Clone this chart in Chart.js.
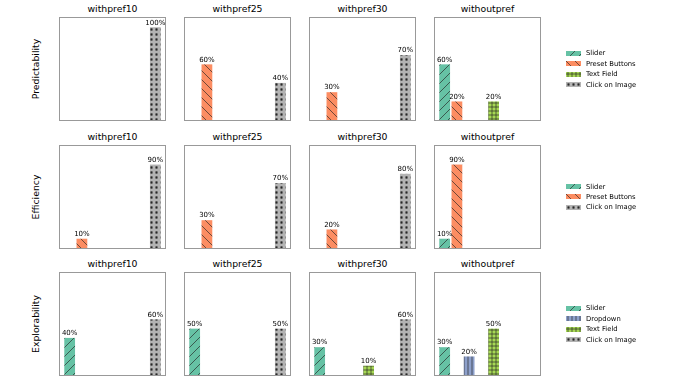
<!DOCTYPE html>
<html>
<head>
<meta charset="utf-8">
<script src="https://cdn.jsdelivr.net/npm/chart.js@4.4.1/dist/chart.umd.min.js"></script>
<style>
  body { margin: 0; background: #fff; font-family: "DejaVu Sans", sans-serif; }
  #fig { position: relative; width: 674px; height: 379px; overflow: hidden; }
  .panel { position: absolute; }
  .ttl { position: absolute; font-size: 9.3px; text-align: center; width: 160px; line-height: 12px; color: #000; }
  .rowlbl { position: absolute; font-size: 9.3px; white-space: nowrap; transform: translate(-50%, -50%) rotate(-90deg); }
  .leg { position: absolute; font-size: 6.8px; color: #000; }
  .leg div { display: flex; align-items: center; height: 10.4px; white-space: nowrap; }
  .leg canvas { margin-right: 5px; }
</style>
</head>
<body>
<div id="fig"></div>
<script>
// 8 interface slots; blank names never show a bar in this figure
const categories = ['Slider', 'Preset Buttons', 'Dropdown', '', 'Text Field', '', '', 'Click on Image'];
const conditions = ['withpref10', 'withpref25', 'withpref30', 'withoutpref'];
const metrics = ['Predictability', 'Efficiency', 'Explorability'];

// percentages per slot (same order as categories)
const predictability = [
    [0, 0, 0, 0, 0, 0, 0, 100],
    [0, 60, 0, 0, 0, 0, 0, 40],
    [0, 30, 0, 0, 0, 0, 0, 70],
    [60, 20, 0, 0, 20, 0, 0, 0]
];
const efficiency = [
    [0, 10, 0, 0, 0, 0, 0, 90],
    [0, 30, 0, 0, 0, 0, 0, 70],
    [0, 20, 0, 0, 0, 0, 0, 80],
    [10, 90, 0, 0, 0, 0, 0, 0]
];
const explorability = [
    [40, 0, 0, 0, 0, 0, 0, 60],
    [50, 0, 0, 0, 0, 0, 0, 50],
    [30, 0, 0, 0, 10, 0, 0, 60],
    [30, 0, 20, 0, 50, 0, 0, 0]
];
const rows = [predictability, efficiency, explorability];

const colors = ['#66c2a5', '#fc8d62', '#8da0cb', '#e78ac3', '#a6d854', '#ffd92f', '#e5c494', '#b3b3b3'];
const hatches = ['/', '\\', '|', '-', '+', 'x', 'o', '*'];

const panelLeft = [60, 185, 310, 435];
const panelTop = [18, 146, 273];
const panelW = 105, panelH = 102;

function makeHatch(color, hatch) {
    const big = (hatch === '/' || hatch === '\\' || hatch === 'x');
    const T = big ? 9 : (hatch === '*' ? 5 : 4);
    const tile = document.createElement('canvas');
    tile.width = T; tile.height = T;
    const c = tile.getContext('2d');
    c.fillStyle = color;
    c.fillRect(0, 0, T, T);
    c.strokeStyle = '#222';
    c.lineWidth = hatch === '*' ? 0.7 : 0.65;
    c.beginPath();
    if (hatch === '/' || hatch === 'x') {
        for (const k of [-T, 0, T]) { c.moveTo(k, T); c.lineTo(k + T, 0); }
    }
    if (hatch === '\\' || hatch === 'x') {
        for (const k of [-T, 0, T]) { c.moveTo(k, 0); c.lineTo(k + T, T); }
    }
    if (hatch === '|' || hatch === '+') { c.moveTo(T / 2, 0); c.lineTo(T / 2, T); }
    if (hatch === '-' || hatch === '+') { c.moveTo(0, T / 2); c.lineTo(T, T / 2); }
    if (hatch === '*') {
        const m = T / 2, r = 1.4;
        c.moveTo(m, m - r); c.lineTo(m, m + r);
        c.moveTo(m - r, m - 0.7); c.lineTo(m + r, m + 0.7);
        c.moveTo(m - r, m + 0.7); c.lineTo(m + r, m - 0.7);
    }
    c.stroke();
    return c.createPattern(tile, 'repeat');
}

const patterns = colors.map((col, i) => makeHatch(col, hatches[i]));

const framePlugin = {
    id: 'frame',
    afterDraw(chart) {
        const { ctx, chartArea: a } = chart;
        ctx.save();
        ctx.strokeStyle = '#999';
        ctx.lineWidth = 1;
        ctx.strokeRect(a.left - 0.5, a.top - 0.5, a.width + 1, a.height + 1);
        ctx.restore();
    }
};

const valueLabels = {
    id: 'valueLabels',
    afterDatasetsDraw(chart) {
        const ctx = chart.ctx;
        const ds = chart.data.datasets[0];
        ctx.save();
        ctx.font = '7px "DejaVu Sans"';
        ctx.fillStyle = '#000';
        ctx.textAlign = 'center';
        ctx.textBaseline = 'bottom';
        chart.getDatasetMeta(0).data.forEach((el, i) => {
            const v = ds.data[i].y;
            if (v > 0) ctx.fillText(v + '%', el.x, el.y - 1);
        });
        ctx.restore();
    }
};

const fig = document.getElementById('fig');

rows.forEach((rowData, r) => {
    // row label
    const lbl = document.createElement('div');
    lbl.className = 'rowlbl';
    lbl.textContent = metrics[r];
    lbl.style.left = '35px';
    lbl.style.top = (panelTop[r] + panelH / 2) + 'px';
    fig.appendChild(lbl);

    rowData.forEach((vals, c) => {
        const ttl = document.createElement('div');
        ttl.className = 'ttl';
        ttl.textContent = conditions[c];
        ttl.style.left = (panelLeft[c] + panelW / 2 - 80) + 'px';
        ttl.style.top = (panelTop[r] - 15) + 'px';
        fig.appendChild(ttl);

        const cv = document.createElement('canvas');
        cv.className = 'panel';
        cv.width = panelW + 2; cv.height = panelH + 2;
        cv.style.left = (panelLeft[c] - 1) + 'px';
        cv.style.top = (panelTop[r] - 1) + 'px';
        fig.appendChild(cv);

        new Chart(cv.getContext('2d'), {
            type: 'bar',
            data: {
                datasets: [{
                    data: vals.map((v, i) => ({ x: i, y: v })),
                    backgroundColor: patterns,
                    borderWidth: 0,
                    barPercentage: 0.88,
                    categoryPercentage: 1
                }]
            },
            options: {
                responsive: false,
                animation: false,
                layout: { padding: 1 },
                plugins: { legend: { display: false }, tooltip: { enabled: false } },
                scales: {
                    x: { type: 'linear', min: -0.79, max: 7.79, offset: false, display: false },
                    y: { min: 0, max: 110, display: false }
                }
            },
            plugins: [valueLabels, framePlugin]
        });
    });

    // legend: slots used anywhere in this row
    const used = categories.map((_, i) => i).filter(i => rowData.some(v => v[i] > 0));
    const leg = document.createElement('div');
    leg.className = 'leg';
    leg.style.left = '566px';
    leg.style.top = (panelTop[r] + panelH / 2 - used.length * 10.4 / 2) + 'px';
    used.forEach(i => {
        const item = document.createElement('div');
        const sw = document.createElement('canvas');
        sw.width = 15; sw.height = 5;
        const sc = sw.getContext('2d');
        sc.fillStyle = patterns[i];
        sc.fillRect(0, 0, 15, 5);
        item.appendChild(sw);
        const t = document.createElement('span');
        t.textContent = categories[i];
        item.appendChild(t);
        leg.appendChild(item);
    });
    fig.appendChild(leg);
});
</script>
</body>
</html>
